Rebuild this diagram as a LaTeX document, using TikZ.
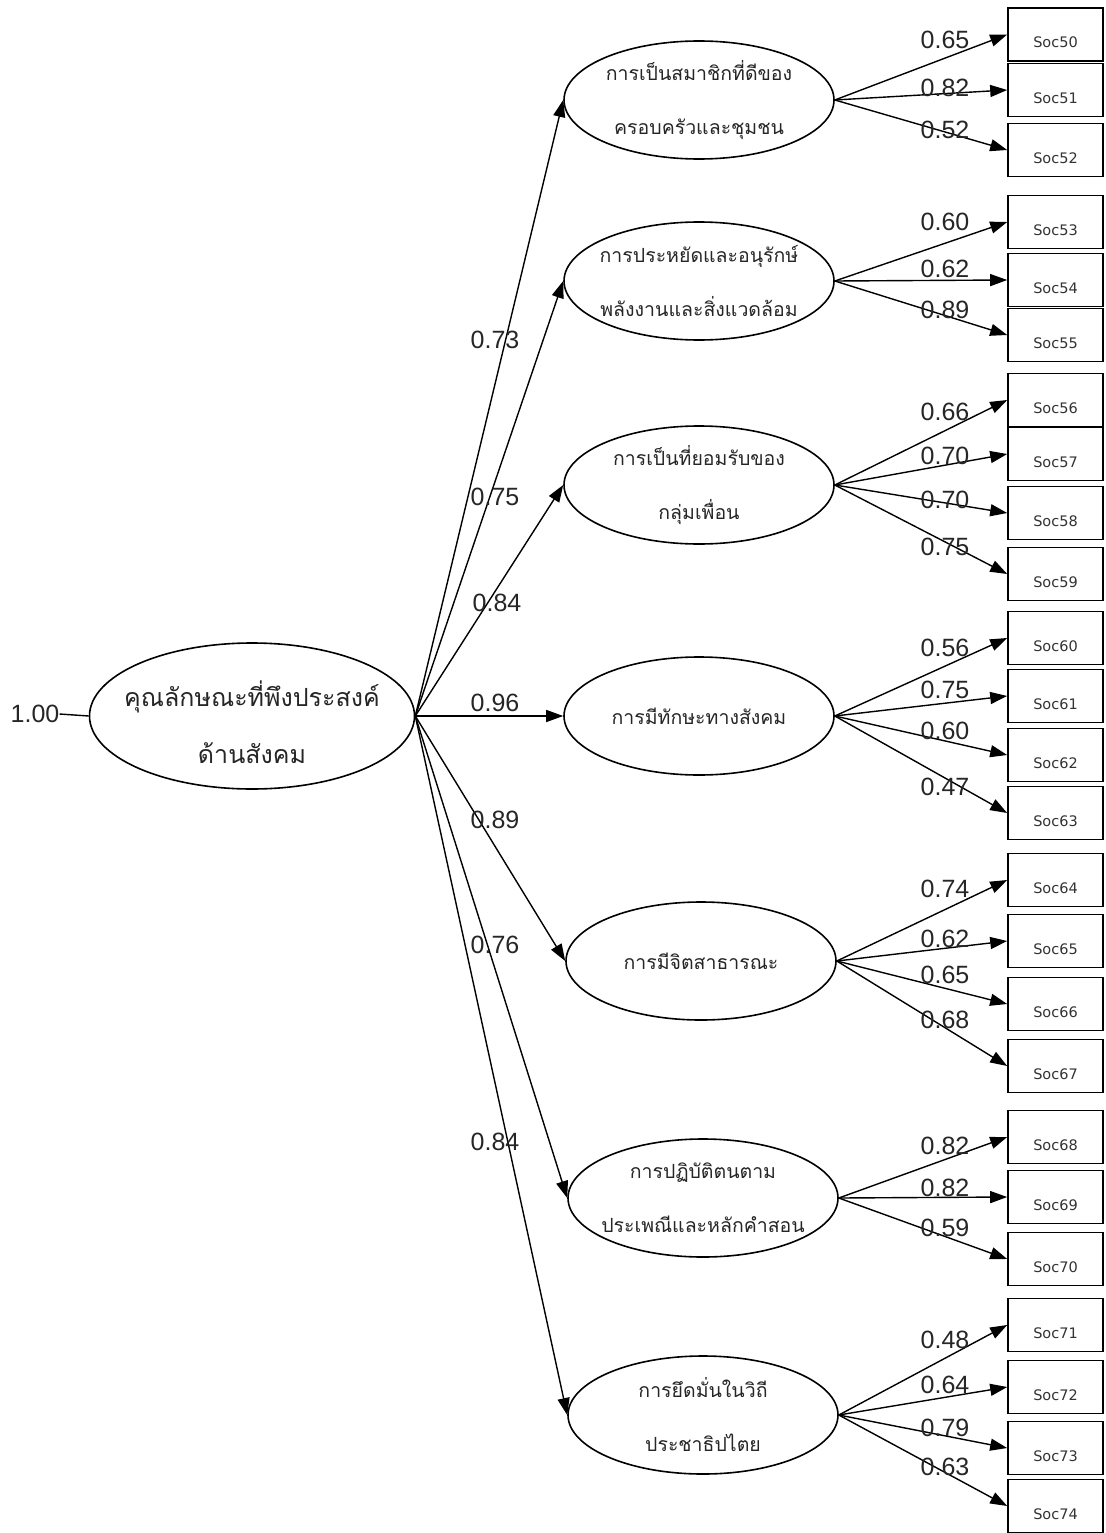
\documentclass[tikz,border=0pt]{standalone}
\usepackage{fontspec}
\setmainfont{Liberation Sans}
\newfontfamily\thaifont[Script=Thai]{Loma}
\newfontfamily\boxfont{DejaVu Sans}
\usetikzlibrary{arrows.meta,shapes.geometric}
\begin{document}
\begin{tikzpicture}[x=1pt,y=-1pt,
  mainell/.style={draw, ellipse, line width=1.6pt, minimum width=325pt, minimum height=146pt, inner sep=0pt},
  subell/.style={draw, ellipse, line width=1.6pt, minimum width=270pt, minimum height=118pt, inner sep=0pt},
  maintext/.style={font=\thaifont\fontsize{25}{57}\selectfont, align=center, text=black!85, inner sep=0pt},
  subtext/.style={font=\thaifont\fontsize{19.5}{54}\selectfont, align=center, text=black!85, inner sep=0pt},
  obsbox/.style={draw, line width=1.6pt, minimum width=95pt, minimum height=53pt, inner sep=0pt, font=\boxfont\fontsize{14.5}{18}\selectfont, text height=27pt, text depth=0pt, text=black!80},
  loadlab/.style={font=\fontsize{25}{30}\selectfont, text=black!85, inner sep=0pt},
  arr/.style={-{Triangle[length=17pt,width=12pt]}, line width=1.4pt},
  plain/.style={line width=1.4pt}
]
\useasboundingbox (0,0) rectangle (1105,1533);
\fill[white] (0,0) rectangle (1105,1533);

% main latent
\node[mainell] (m) at (252,716) {};
\node[maintext] (mt) at (252,722) {คุณลักษณะที่พึงประสงค์\\ด้านสังคม};
\node[loadlab] (one) at (35,714) {1.00};
\draw[plain] (one.east) -- (m.west);

% sub latents
\node[subell] (e1) at (699,100) {};
\node[subtext] (t1) at (e1) {การเป็นสมาชิกที่ดีของ\\ครอบครัวและชุมชน};
\node[subell] (e2) at (699,281) {};
\node[subtext] (t2) at (e2) {การประหยัดและอนุรักษ์\\พลังงานและสิ่งแวดล้อม};
\node[subell] (e3) at (699,485) {};
\node[subtext] (t3) at (e3) {การเป็นที่ยอมรับของ\\กลุ่มเพื่อน};
\node[subell] (e4) at (699,716) {};
\node[subtext] (t4) at (e4) {การมีทักษะทางสังคม};
\node[subell] (e5) at (701,961) {};
\node[subtext] (t5) at (e5) {การมีจิตสาธารณะ};
\node[subell] (e6) at (703,1198) {};
\node[subtext] (t6) at (e6) {การปฏิบัติตนตาม\\ประเพณีและหลักคำสอน};
\node[subell] (e7) at (703,1415) {};
\node[subtext] (t7) at (e7) {การยึดมั่นในวิถี\\ประชาธิปไตย};

% main arrows
\foreach \e in {e1,e2,e3,e4,e5,e6,e7}
  \draw[arr] (m.east) -- (\e.west);
\node[loadlab] (l1) at (495,340) {0.73};
\node[loadlab] (l2) at (495,497) {0.75};
\node[loadlab] (l3) at (497,603) {0.84};
\node[loadlab] (l4) at (495,703) {0.96};
\node[loadlab] (l5) at (495,820) {0.89};
\node[loadlab] (l6) at (495,945) {0.76};
\node[loadlab] (l7) at (495,1142) {0.84};

% observed boxes
\foreach \n/\y in {50/34.5,51/90,52/150,53/222,54/280,55/335,56/400,57/454,58/513,59/574,60/638,61/696,62/755,63/813,64/880,65/941,66/1004,67/1066,68/1137,69/1197,70/1259,71/1325,72/1387,73/1448,74/1506}
  \node[obsbox] (b\n) at (1055.5,\y) {Soc\n};

% loadings
\foreach \e/\n/\v/\y in {
  e1/50/0.65/40, e1/51/0.82/88, e1/52/0.52/130,
  e2/53/0.60/222, e2/54/0.62/269, e2/55/0.89/310,
  e3/56/0.66/412, e3/57/0.70/456, e3/58/0.70/500, e3/59/0.75/547,
  e4/60/0.56/648, e4/61/0.75/690, e4/62/0.60/731, e4/63/0.47/787,
  e5/64/0.74/889, e5/65/0.62/939, e5/66/0.65/975, e5/67/0.68/1020,
  e6/68/0.82/1146, e6/69/0.82/1188, e6/70/0.59/1228,
  e7/71/0.48/1340, e7/72/0.64/1385, e7/73/0.79/1428, e7/74/0.63/1467}
{
  \draw[arr] (\e.east) -- (b\n.west);
  \node[loadlab] (v\n) at (945,\y) {\v};
}
\end{tikzpicture}
\end{document}
